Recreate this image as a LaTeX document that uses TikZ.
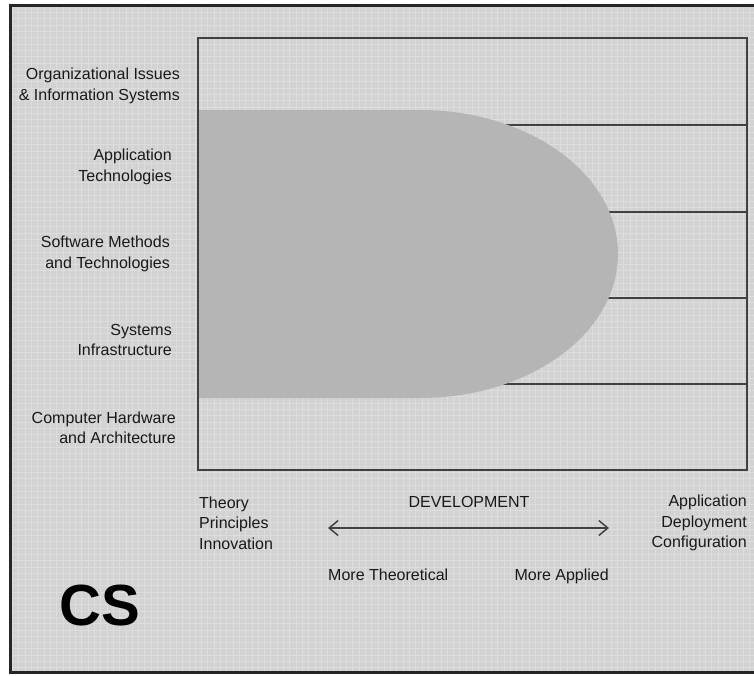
\documentclass[tikz,border=0pt]{standalone}
\usepackage{fontspec}
\setmainfont{Liberation Sans}
\usetikzlibrary{arrows.meta}
\definecolor{paper}{RGB}{210,210,210}
\definecolor{gridline}{RGB}{221,221,221}
\definecolor{blob}{RGB}{181,181,181}
\definecolor{ink}{RGB}{25,25,25}
\definecolor{rule}{RGB}{65,65,65}

\begin{document}
\begin{tikzpicture}[x=1pt,y=-1pt]
    \tikzstyle{area}=[anchor=east,align=right,font=\fontsize{16}{20.5}\selectfont,text=ink,inner sep=0pt]
    \tikzstyle{axis}=[font=\fontsize{16}{20.5}\selectfont,text=ink,inner sep=0pt]
    \useasboundingbox (0,0) rectangle (754,675);
    \clip (0,0) rectangle (754,675);
    \fill[white] (0,0) rectangle (754,675);
    \fill[paper] (10,5) rectangle (770,672);
    \draw[gridline,line width=1pt,step=6.3pt] (10,5) grid (770,672);
    \draw[black!85,line width=3pt] (10,5) rectangle (770,672);
    % band separators
    \foreach \y in {125,212,298,384}
        \draw[rule,line width=1.6pt] (198,\y) -- (747,\y);
    % shaded region
    \fill[blob] (198,110) -- (420,110)
        arc[start angle=-90,end angle=90,x radius=198,y radius=144]
        -- (198,398) -- cycle;
    \draw[rule,line width=1.8pt] (198,38) rectangle (747,470);
    % areas
    \node[area] (org) at (180,86) {Organizational Issues\\\& Information Systems};
    \node[area] (app) at (172,167) {Application\\Technologies};
    \node[area] (soft) at (170,254) {Software Methods\\and Technologies};
    \node[area] (sys) at (172,340) {Systems\\Infrastructure};
    \node[area] (hw) at (176,428) {Computer Hardware\\and Architecture};
    % axis
    \node[axis,anchor=west,align=left] (theory) at (199,523) {Theory\\Principles\\Innovation};
    \node[axis,anchor=east,align=right] (practice) at (747,523) {Application\\Deployment\\Configuration};
    \node[axis] (dev) at (469,502) {DEVELOPMENT};
    \node[axis,anchor=base west] (more_theo) at (328,580.5) {More Theoretical};
    \node[axis,anchor=base east] (more_appl) at (609,580.5) {More Applied};
    \coordinate (end_l) at (328,528);
    \coordinate (end_r) at (609,528);
    \draw[{Straight Barb[length=9pt,width=15pt]}-{Straight Barb[length=9pt,width=15pt]},line width=1.5pt,rule] (end_l) -- (end_r);
    \node[font=\fontsize{58}{58}\bfseries\selectfont,inner sep=0pt] (cs) at (100,606) {CS};
\end{tikzpicture}
\end{document}
